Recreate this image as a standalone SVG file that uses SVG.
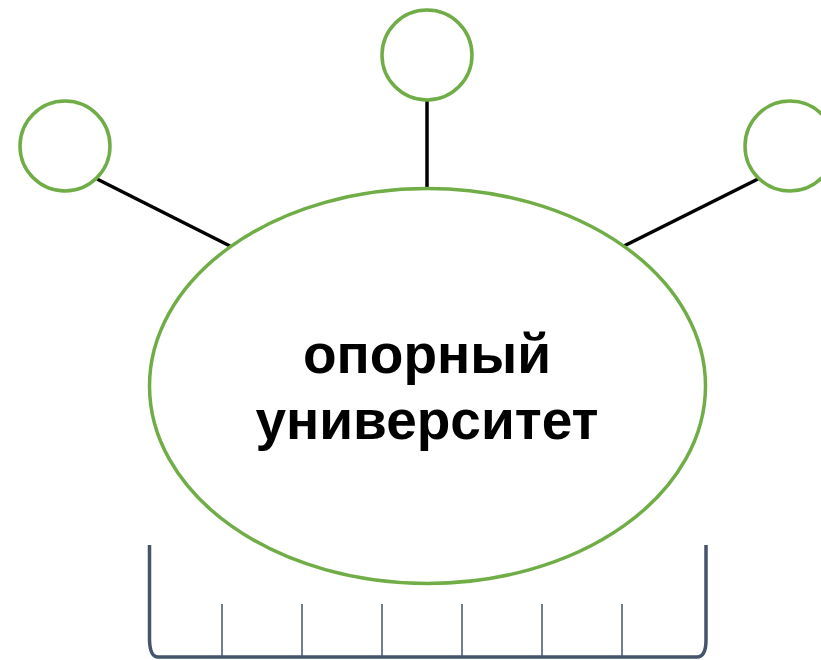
<svg xmlns="http://www.w3.org/2000/svg" width="821" height="660" viewBox="0 0 821 660">
<style>
.node{fill:#fff;stroke:#70ad47;stroke-width:3.5}
.conn{stroke:#000;stroke-width:3.5;fill:none}
.bracket{stroke:#44546a;fill:none}
.label{font-family:"Liberation Sans",Arial,sans-serif;font-weight:bold;font-size:55px;fill:#000;text-anchor:middle}
</style>
<rect width="821" height="660" fill="#fff"/>
<g id="connectors">
<line class="conn" x1="97" y1="179" x2="230" y2="246"/>
<line class="conn" x1="427" y1="101" x2="427" y2="188"/>
<line class="conn" x1="624" y1="246" x2="758" y2="179"/>
</g>
<g id="bracket">
<path class="bracket" stroke-width="3.5" d="M149.5,545 L149.5,640 Q150,657 158,657 L697,657 Q706,657 706,640 L706,545"/>
<g stroke-width="1.5" class="bracket">
<line x1="222" y1="604" x2="222" y2="657"/>
<line x1="302" y1="604" x2="302" y2="657"/>
<line x1="382" y1="604" x2="382" y2="657"/>
<line x1="462" y1="604" x2="462" y2="657"/>
<line x1="542" y1="604" x2="542" y2="657"/>
<line x1="622" y1="604" x2="622" y2="657"/>
</g>
</g>
<g id="center">
<ellipse class="node" cx="427.5" cy="386" rx="278" ry="197.5"/>
<text class="label" x="427" y="373">опорный</text>
<text class="label" x="427" y="439">университет</text>
</g>
<g id="top"><circle class="node" cx="427" cy="55" r="45"/></g>
<g id="left"><circle class="node" cx="65" cy="146" r="45"/></g>
<g id="right"><circle class="node" cx="790" cy="146" r="45"/></g>
</svg>
